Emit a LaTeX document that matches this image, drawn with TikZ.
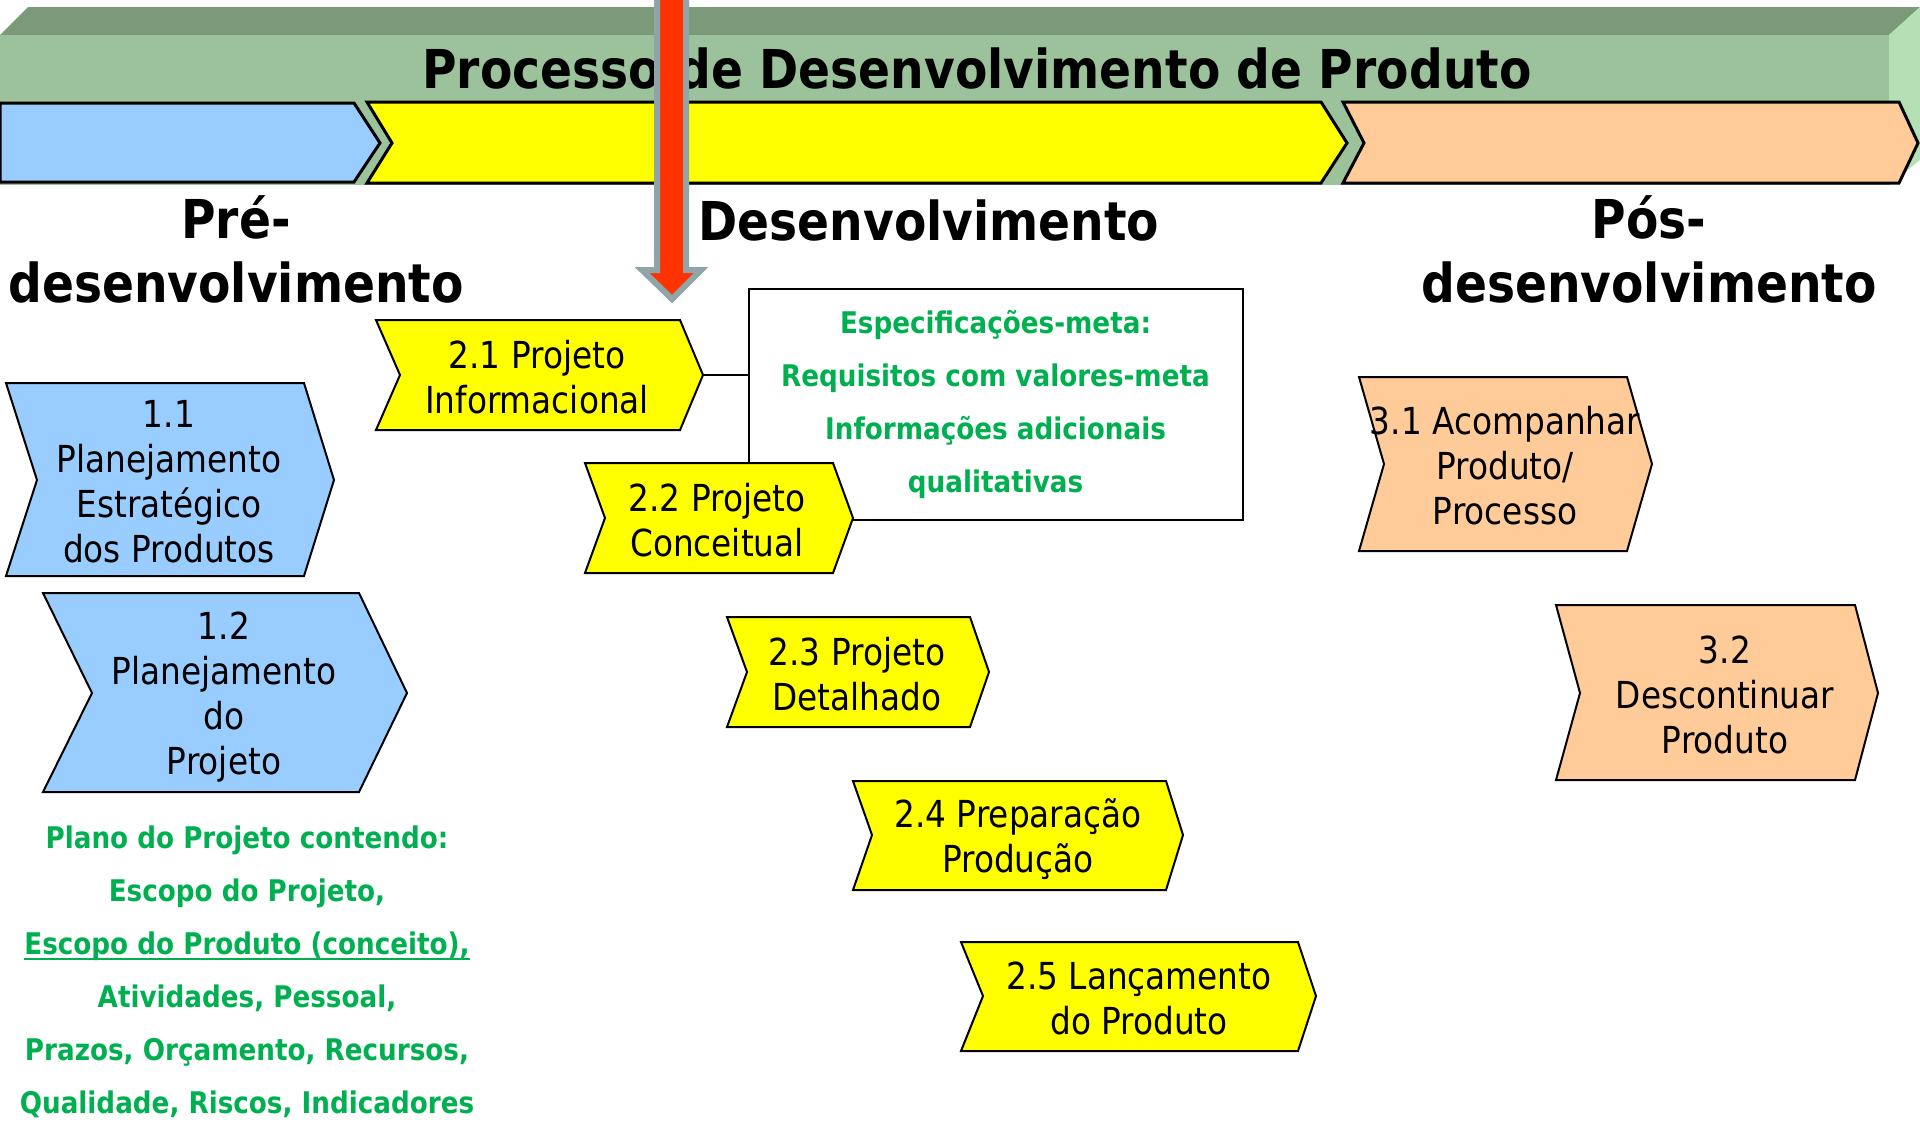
\documentclass[tikz,border=0pt]{standalone}
\usepackage{fontspec}
\setmainfont{DejaVu Sans}[FakeStretch=0.88]
\usetikzlibrary{calc}
\definecolor{preblue}{HTML}{99CCFF}
\definecolor{devyellow}{HTML}{FFFF00}
\definecolor{posorange}{HTML}{FFCC99}
\definecolor{ourgreen}{HTML}{00B050}
\definecolor{bartop}{HTML}{7A9A7A}
\definecolor{barfront}{HTML}{9BC29B}
\definecolor{barside}{HTML}{B5DFB5}
\definecolor{arrowred}{HTML}{FF3300}
\definecolor{arrowgray}{HTML}{8FA5A8}
\newcommand\myuline[1]{\setbox0\hbox{#1}\rlap{\rule[-2.6pt]{\wd0}{0.9pt}}\box0}
\tikzset{
  stepbox/.style={draw=black, line width=1pt, line join=miter},
  bararrow/.style={draw=black, line width=1.5pt, line join=miter},
  steptext/.style={align=center, inner sep=0pt, font=\fontsize{18.6}{22.5}\selectfont},
  phasetext/.style={align=center, inner sep=0pt, font=\bfseries\fontsize{26.8}{32}\selectfont},
  greentext/.style={align=center, inner sep=0pt, text=ourgreen, font=\bfseries\fontsize{14.9}{26.5}\selectfont},
  specframe/.style={draw=black, line width=1pt, fill=white, minimum width=247pt, minimum height=115.5pt}
}
\begin{document}
\begin{tikzpicture}[x=0.5pt,y=-0.5pt]
\useasboundingbox (0,0) rectangle (1920,1121);
% 3D bar
\fill[bartop] (28,7) -- (1920,7) -- (1889,35) -- (0,35) -- cycle;
\fill[barfront] (0,35) rectangle (1889,185);
\fill[barside] (1889,35) -- (1920,7) -- (1920,160) -- (1889,185) -- cycle;
\node[anchor=base, inner sep=0pt, font=\bfseries\fontsize{26.8}{32}\selectfont] (title) at (977,88) {Processo de Desenvolvimento de Produto};
% phase arrows
\filldraw[bararrow, fill=preblue] (0,103) -- (354,103) -- (380,143) -- (354,182) -- (0,182) -- cycle;
\filldraw[bararrow, fill=devyellow] (367,102) -- (1321,102) -- (1347,143) -- (1321,183) -- (367,183) -- (392,143) -- cycle;
\filldraw[bararrow, fill=posorange] (1343,102) -- (1899,102) -- (1918,143) -- (1899,183) -- (1343,183) -- (1364,143) -- cycle;
% red arrow
\fill[arrowred] (657,-10) -- (657,270) -- (642,270) -- (672,299) -- (701,270) -- (686,270) -- (686,-10) -- cycle;
\draw[arrowgray, line width=3pt, line join=miter] (657,-10) -- (657,270) -- (642,270) -- (672,299) -- (701,270) -- (686,270) -- (686,-10);
% phase labels
\node[phasetext] (pre) at (236,249) {Pré-\\desenvolvimento};
\node[phasetext, anchor=base] (dev) at (929,240) {Desenvolvimento};
\node[phasetext] (pos) at (1649,249) {Pós-\\desenvolvimento};
% spec box
\node[specframe, greentext] (spec) at (995.5,404) {Especificações-meta:\\Requisitos com valores-meta\\Informações adicionais\\qualitativas};
% steps
\filldraw[stepbox, fill=preblue] (6,383) -- (304,383) -- (334,480) -- (304,576) -- (6,576) -- (37,480) -- cycle;
\node[steptext] (s11) at (169,482) {1.1\\Planejamento\\Estratégico\\dos Produtos};
\filldraw[stepbox, fill=preblue] (43,593) -- (359,593) -- (407,693) -- (359,792) -- (43,792) -- (92,693) -- cycle;
\node[steptext] (s12) at (224,697) {1.2\\Planejamento\\do\\Projeto};
\filldraw[stepbox, fill=devyellow] (376,320) -- (680,320) -- (703,375) -- (680,430) -- (376,430) -- (400,375) -- cycle;
\coordinate (s21tip) at (703,375);
\node[steptext] (s21) at (537,377) {2.1 Projeto\\Informacional};
\draw[line width=0.75pt] (s21tip) -- (s21tip -| spec.west);
\filldraw[stepbox, fill=devyellow] (585,463) -- (833,463) -- (853,518) -- (833,573) -- (585,573) -- (605,518) -- cycle;
\node[steptext] (s22) at (717,520) {2.2 Projeto\\Conceitual};
\filldraw[stepbox, fill=devyellow] (727,617) -- (970,617) -- (989,672) -- (970,727) -- (727,727) -- (747,672) -- cycle;
\node[steptext] (s23) at (857,674) {2.3 Projeto\\Detalhado};
\filldraw[stepbox, fill=devyellow] (853,781) -- (1166,781) -- (1183,835) -- (1166,890) -- (853,890) -- (872,835) -- cycle;
\node[steptext] (s24) at (1018,839) {2.4 Preparação\\Produção};
\filldraw[stepbox, fill=devyellow] (961,942) -- (1298,942) -- (1316,996) -- (1298,1051) -- (961,1051) -- (983,996) -- cycle;
\node[steptext] (s25) at (1139,998) {2.5 Lançamento\\do Produto};
\filldraw[stepbox, fill=posorange] (1359,377) -- (1627,377) -- (1652,464) -- (1627,551) -- (1359,551) -- (1384,464) -- cycle;
\node[steptext] (s31) at (1505,466) {3.1 Acompanhar\\Produto/\\Processo};
\filldraw[stepbox, fill=posorange] (1556,605) -- (1855,605) -- (1878,693) -- (1855,780) -- (1556,780) -- (1580,693) -- cycle;
\node[steptext] (s32) at (1725,695) {3.2\\Descontinuar\\Produto};
% plan text
\node[greentext] (plano) at (247,972) {Plano do Projeto contendo:\\Escopo do Projeto,\\\myuline{Escopo do Produto (conceito),}\\Atividades, Pessoal,\\Prazos, Orçamento, Recursos,\\Qualidade, Riscos, Indicadores};
\end{tikzpicture}
\end{document}
